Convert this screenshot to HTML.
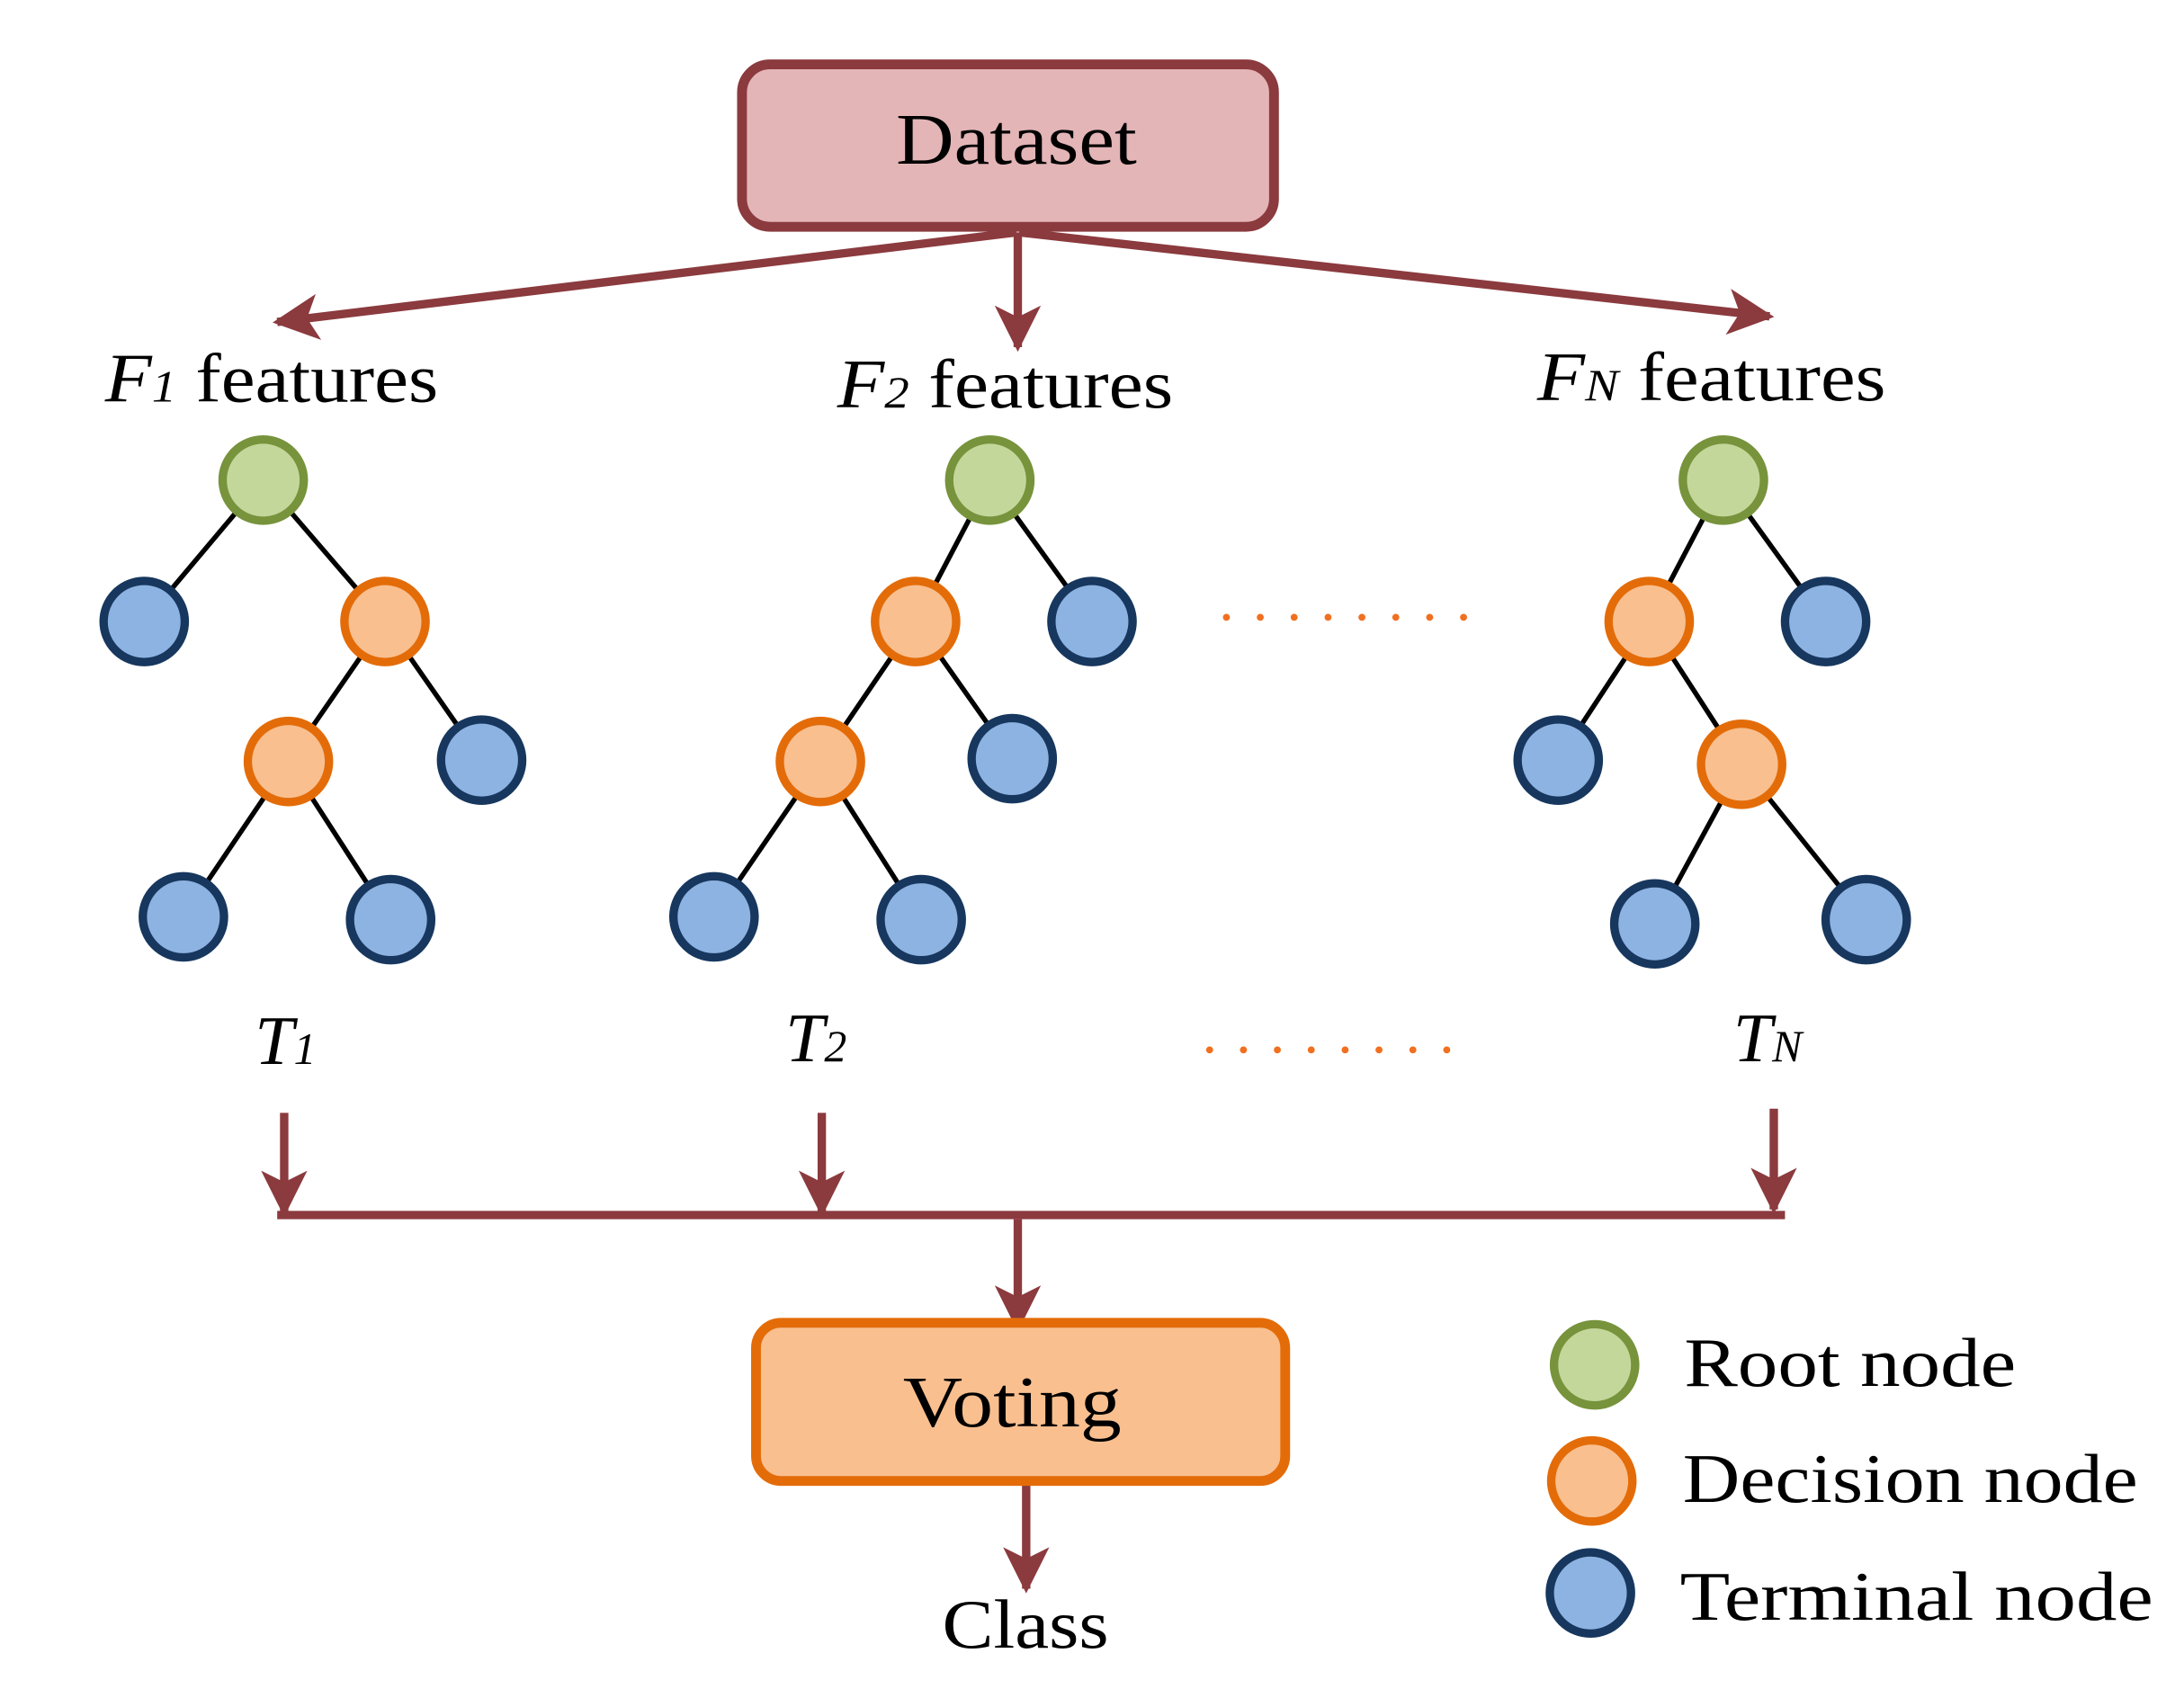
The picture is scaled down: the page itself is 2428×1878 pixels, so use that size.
<!DOCTYPE html>
<html><head><meta charset="utf-8"><style>html,body{margin:0;padding:0;background:#fff}svg{display:block}</style></head>
<body>
<svg width="2428" height="1878" viewBox="0 0 1560 1206.6" preserveAspectRatio="none" xmlns="http://www.w3.org/2000/svg" font-family="'Liberation Serif', serif">
<defs>
<marker id="ah" viewBox="0 0 10 10" refX="9" refY="5" markerWidth="5.5" markerHeight="5.5" orient="auto" markerUnits="strokeWidth"><path d="M0,0 L10,5 L0,10 L2.5,5 z" fill="#8b3a3e"/></marker>
</defs>
<rect x="530" y="46" width="380" height="116" rx="20" fill="#e3b5b7" stroke="#8b3a3e" stroke-width="7"/>
<text x="640" y="117" font-size="52" textLength="172" lengthAdjust="spacingAndGlyphs">Dataset</text>
<g stroke="#8b3a3e" stroke-width="6" fill="none" marker-end="url(#ah)">
<line x1="726" y1="166" x2="198" y2="230"/>
<line x1="727" y1="166" x2="727" y2="248"/>
<line x1="728" y1="166" x2="1264" y2="226"/>
<line x1="203" y1="795" x2="203" y2="866"/>
<line x1="587" y1="795" x2="587" y2="866"/>
<line x1="1267" y1="792" x2="1267" y2="864"/>
<line x1="727" y1="871" x2="727" y2="948"/>
<line x1="733" y1="1060" x2="733" y2="1135"/>
</g>
<line x1="198" y1="868" x2="1275" y2="868" stroke="#8b3a3e" stroke-width="6"/>
<g font-size="50">
<text x="75" y="287" textLength="238" lengthAdjust="spacingAndGlyphs"><tspan font-style="italic">F</tspan><tspan font-style="italic" font-size="32">1</tspan> features</text>
<text x="598" y="291" textLength="240" lengthAdjust="spacingAndGlyphs"><tspan font-style="italic">F</tspan><tspan font-style="italic" font-size="32">2</tspan> features</text>
<text x="1098" y="286" textLength="249" lengthAdjust="spacingAndGlyphs"><tspan font-style="italic">F</tspan><tspan font-style="italic" font-size="32">N</tspan> features</text>
<text x="182" y="760" font-style="italic">T<tspan font-size="32">1</tspan></text>
<text x="561" y="758" font-style="italic">T<tspan font-size="32">2</tspan></text>
<text x="1238" y="758" font-style="italic">T<tspan font-size="32">N</tspan></text>
</g>
<g stroke="#000" stroke-width="3.5">
<line x1="188" y1="343" x2="103" y2="444"/><line x1="188" y1="343" x2="275" y2="444"/>
<line x1="275" y1="444" x2="206" y2="544"/><line x1="275" y1="444" x2="344" y2="543"/>
<line x1="206" y1="544" x2="131" y2="655"/><line x1="206" y1="544" x2="279" y2="657"/>
<line x1="707" y1="343" x2="654" y2="444"/><line x1="707" y1="343" x2="780" y2="444"/>
<line x1="654" y1="444" x2="586" y2="544"/><line x1="654" y1="444" x2="723" y2="542"/>
<line x1="586" y1="544" x2="510" y2="655"/><line x1="586" y1="544" x2="658" y2="657"/>
<line x1="1231" y1="343" x2="1178" y2="444"/><line x1="1231" y1="343" x2="1304" y2="444"/>
<line x1="1178" y1="444" x2="1113" y2="543"/><line x1="1178" y1="444" x2="1244" y2="546"/>
<line x1="1244" y1="546" x2="1182" y2="660"/><line x1="1244" y1="546" x2="1333" y2="657"/>
</g>
<g stroke-width="6">
<g fill="#c4d79b" stroke="#77933c">
<circle cx="188" cy="343" r="29"/><circle cx="707" cy="343" r="29"/><circle cx="1231" cy="343" r="29"/><circle cx="1139" cy="975" r="29"/>
</g>
<g fill="#f9bf8f" stroke="#e36c09">
<circle cx="275" cy="444" r="29"/><circle cx="206" cy="544" r="29"/><circle cx="654" cy="444" r="29"/><circle cx="586" cy="544" r="29"/><circle cx="1178" cy="444" r="29"/><circle cx="1244" cy="546" r="29"/><circle cx="1137" cy="1058" r="29"/>
</g>
<g fill="#8db3e2" stroke="#17375e">
<circle cx="103" cy="444" r="29"/><circle cx="344" cy="543" r="29"/><circle cx="131" cy="655" r="29"/><circle cx="279" cy="657" r="29"/>
<circle cx="780" cy="444" r="29"/><circle cx="723" cy="542" r="29"/><circle cx="510" cy="655" r="29"/><circle cx="658" cy="657" r="29"/>
<circle cx="1304" cy="444" r="29"/><circle cx="1113" cy="543" r="29"/><circle cx="1182" cy="660" r="29"/><circle cx="1333" cy="657" r="29"/>
<circle cx="1136" cy="1138" r="29"/>
</g>
</g>
<g stroke="#f07020" stroke-width="5" stroke-linecap="round" stroke-dasharray="0 24.2">
<line x1="876" y1="441" x2="1046" y2="441"/>
<line x1="864" y1="750" x2="1034" y2="750"/>
</g>
<rect x="540" y="945" width="378" height="113" rx="18" fill="#f9bf8f" stroke="#e36c09" stroke-width="7"/>
<text x="645" y="1019" font-size="52" textLength="156" lengthAdjust="spacingAndGlyphs">Voting</text>
<text x="673" y="1177" font-size="50" textLength="119" lengthAdjust="spacingAndGlyphs">Class</text>
<g font-size="50">
<text x="1203" y="990" textLength="237" lengthAdjust="spacingAndGlyphs">Root node</text>
<text x="1202" y="1073" textLength="325" lengthAdjust="spacingAndGlyphs">Decision node</text>
<text x="1200" y="1157" textLength="338" lengthAdjust="spacingAndGlyphs">Terminal node</text>
</g>
</svg>
</body></html>
